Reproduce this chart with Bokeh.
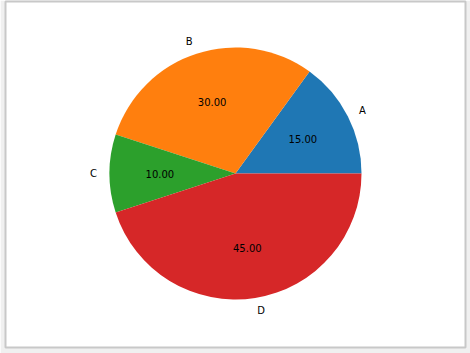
import numpy as np
from bokeh.plotting import figure
from bokeh.models import Range1d, ColumnDataSource
from bokeh.core.properties import value
from bokeh.embed import file_html
from bokeh.resources import INLINE

# Pie data
labels = ["A", "B", "C", "D"]
values = [15, 30, 10, 45]
colors = ["#1f77b4", "#ff7f0e", "#2ca02c", "#d62728"]

vals = np.array(values, dtype=float)
fracs = vals / vals.sum()
ends = np.cumsum(fracs) * 2 * np.pi
starts = np.concatenate([[0.0], ends[:-1]])
mids = (starts + ends) / 2

R = 1.0
pct_r = 0.6 * R
lab_r = 1.1 * R

wedges = ColumnDataSource(dict(start=starts, end=ends, color=colors))

pct = ColumnDataSource(dict(
    x=pct_r * np.cos(mids),
    y=pct_r * np.sin(mids),
    text=["%.2f" % (f * 100) for f in fracs],
))

lx = lab_r * np.cos(mids)
ly = lab_r * np.sin(mids)
lab = ColumnDataSource(dict(
    x=lx, y=ly, text=labels,
    align=["left" if v >= 0 else "right" for v in lx],
))

# pixels per data unit, so the pie is round
s = 126.0
fw, fh = 460, 346
p = figure(width=470, height=353, output_backend="svg", toolbar_location=None,
           x_range=Range1d(-230 / s, (fw - 230) / s),
           y_range=Range1d(-174 / s, (fh - 174) / s),
           min_border_left=5, min_border_right=5,
           min_border_top=1, min_border_bottom=6)
p.axis.visible = False
p.grid.visible = False
p.border_fill_color = "#f0f0f0"
p.background_fill_color = "white"
p.outline_line_color = "#c8c8c8"
p.outline_line_width = 2

p.wedge(x=0, y=0, radius=R, start_angle="start", end_angle="end",
        fill_color="color", line_color=None, source=wedges)

p.text(x="x", y="y", text="text", source=pct, text_align="center",
       text_baseline="middle", text_font=value("DejaVu Sans"),
       text_font_size="10px", text_color="black")

p.text(x="x", y="y", text="text", source=lab, text_align="align",
       text_baseline="middle", text_font=value("DejaVu Sans"),
       text_font_size="10px", text_color="black")

open("out.html", "w").write(file_html(p, INLINE))
